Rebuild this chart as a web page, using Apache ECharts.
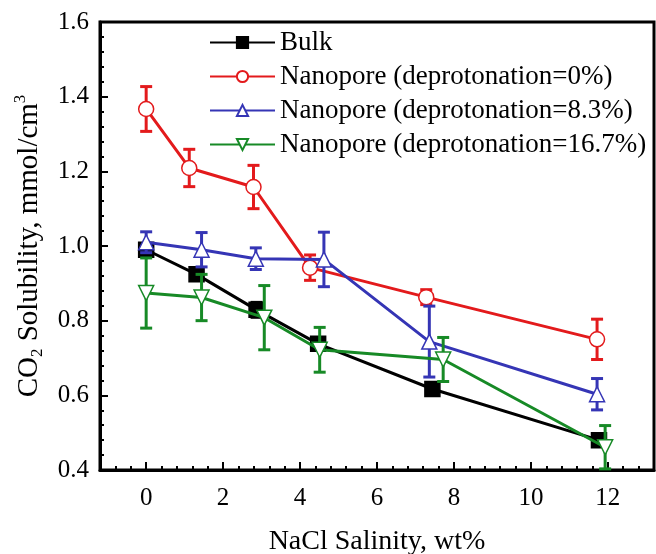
<!DOCTYPE html>
<html>
<head>
<meta charset="utf-8">
<script src="https://cdn.jsdelivr.net/npm/echarts@6/dist/echarts.min.js"></script>
<style>
  html, body { margin: 0; padding: 0; background: #fff; }
  #chart { width: 656px; height: 554px; }
</style>
</head>
<body>
<div id="chart"></div>
<script>
// CO2 solubility vs NaCl salinity: bulk water and nanopores at three deprotonation levels
const seriesNames = [
  'Bulk',
  'Nanopore (deprotonation=0%)',
  'Nanopore (deprotonation=8.3%)',
  'Nanopore (deprotonation=16.7%)'
];

// salinity (wt%) for each point
const bulkX  = [0, 1.31, 2.87, 4.47, 7.44, 11.77];
const np0X   = [0, 1.12, 2.79, 4.26, 7.28, 11.72];
const np83X  = [0, 1.44, 2.85, 4.62, 7.36, 11.72];
const np167X = [0, 1.44, 3.07, 4.51, 7.72, 11.93];

// solubility (mmol/cm3)
const bulkY  = [0.990, 0.924, 0.829, 0.738, 0.617, 0.480];
const np0Y   = [1.367, 1.209, 1.158, 0.942, 0.863, 0.750];
const np83Y  = [1.010, 0.990, 0.966, 0.964, 0.744, 0.603];
const np167Y = [0.874, 0.862, 0.808, 0.722, 0.696, 0.461];

// error bar half-widths
const bulkErr  = [0.010, 0.015, 0.020, 0.012, 0.010, 0.010];
const np0Err   = [0.060, 0.050, 0.058, 0.034, 0.020, 0.054];
const np83Err  = [0.028, 0.046, 0.029, 0.073, 0.095, 0.042];
const np167Err = [0.094, 0.062, 0.086, 0.060, 0.059, 0.058];

const xTickLabels = [0, 2, 4, 6, 8, 10, 12];

const colors = ['#000000', '#e31a1c', '#3535b5', '#178a26'];
const symbols = ['rect', 'circle', 'triangle', 'triangle'];
const rotations = [0, 0, 0, 180];
const fills = ['#000000', '#ffffff', '#ffffff', '#ffffff'];

const xs = [bulkX, np0X, np83X, np167X];
const ys = [bulkY, np0Y, np83Y, np167Y];
const errs = [bulkErr, np0Err, np83Err, np167Err];

const FONT = "'Liberation Serif', 'Times New Roman', 'Liberation Sans', serif";
const Y_MIN = 0.4, Y_MAX = 1.6;

function errorBarSeries(i) {
  const data = xs[i].map((x, k) => [x, ys[i][k], errs[i][k]]);
  return {
    type: 'custom',
    id: 'errbar' + i,
    xAxisIndex: 0,
    yAxisIndex: 0,
    z: 2 + i * 2,
    silent: true,
    encode: { x: 0, y: 1 },
    data: data,
    renderItem: function (params, api) {
      const x = api.value(0), y = api.value(1), e = api.value(2);
      const hiV = Math.min(y + e, Y_MAX);
      const loV = Math.max(y - e, Y_MIN);
      const hi = api.coord([x, hiV]);
      const lo = api.coord([x, loV]);
      const cap = 6;
      const style = { stroke: colors[i], lineWidth: 3 };
      const children = [
        { type: 'line', shape: { x1: hi[0], y1: hi[1], x2: lo[0], y2: lo[1] }, style: style }
      ];
      if (y + e <= Y_MAX) children.push({ type: 'line', shape: { x1: hi[0] - cap, y1: hi[1], x2: hi[0] + cap, y2: hi[1] }, style: style });
      if (y - e >= Y_MIN) children.push({ type: 'line', shape: { x1: lo[0] - cap, y1: lo[1], x2: lo[0] + cap, y2: lo[1] }, style: style });
      return { type: 'group', children: children };
    }
  };
}

function lineSeries(i) {
  return {
    type: 'line',
    name: seriesNames[i],
    xAxisIndex: 0,
    yAxisIndex: 0,
    z: 3 + i * 2,
    data: xs[i].map((x, k) => [x, ys[i][k]]),
    symbol: symbols[i],
    symbolSize: 15,
    symbolRotate: rotations[i],
    showAllSymbol: true,
    lineStyle: { color: colors[i], width: 3 },
    itemStyle: { color: fills[i], borderColor: colors[i], borderWidth: 1.5 },
    emphasis: { disabled: true },
    animation: false
  };
}

const series = [];
for (let i = 0; i < 4; i++) {
  series.push(errorBarSeries(i));
  series.push(lineSeries(i));
}

const chart = echarts.init(document.getElementById('chart'), null, { renderer: 'canvas' });
chart.setOption({
  animation: false,
  backgroundColor: '#ffffff',
  grid: {
    left: 100, right: 2, top: 22, bottom: 84,
    containLabel: false,
    outerBoundsMode: 'none',
    show: true, borderColor: '#000', borderWidth: 3, backgroundColor: 'transparent'
  },
  legend: {
    data: seriesNames,
    orient: 'vertical',
    left: 209,
    top: 29,
    padding: 0,
    itemWidth: 65,
    itemHeight: 14,
    itemGap: 7,
    textStyle: { fontFamily: FONT, fontSize: 27, color: '#000', lineHeight: 26 },
    selectedMode: false
  },
  xAxis: [
    {
      type: 'value',
      position: 'bottom',
      min: -1.2, max: 13.2,
      name: 'NaCl Salinity, wt%',
      nameLocation: 'middle',
      nameGap: 58,
      nameTextStyle: { fontFamily: FONT, fontSize: 28, color: '#000' },
      axisLine: { show: true, onZero: false, lineStyle: { color: '#000', width: 3 } },
      axisTick: { show: true, inside: true, length: 8, customValues: xTickLabels, lineStyle: { color: '#000', width: 2 } },
      axisLabel: { customValues: xTickLabels, fontFamily: FONT, fontSize: 25, color: '#000', margin: 16 },
      splitLine: { show: false }
    },
    {
      type: 'value',
      position: 'bottom',
      min: -1.2, max: 13.2, interval: 0.4,
      axisLine: { show: false, onZero: false },
      axisTick: { show: true, inside: true, length: 4, lineStyle: { color: '#000', width: 2 } },
      axisLabel: { show: false },
      splitLine: { show: false }
    }
  ],
  yAxis: {
    type: 'value',
    min: Y_MIN, max: Y_MAX, interval: 0.2,
    name: '{a|CO}{s|2}{a| Solubility, mmol/cm}{p|3}',
    nameLocation: 'middle',
    nameGap: 54,
    nameTextStyle: {
      fontFamily: FONT, fontSize: 29, color: '#000',
      rich: {
        a: { fontFamily: FONT, fontSize: 29, color: '#000', lineHeight: 34, verticalAlign: 'middle' },
        s: { fontFamily: FONT, fontSize: 17, color: '#000', lineHeight: 34, verticalAlign: 'bottom' },
        p: { fontFamily: FONT, fontSize: 17, color: '#000', lineHeight: 34, verticalAlign: 'top' }
      }
    },
    axisLine: { show: true, onZero: false, lineStyle: { color: '#000', width: 3 } },
    axisTick: { show: true, inside: true, length: 8, lineStyle: { color: '#000', width: 2 } },
    minorTick: { show: true, splitNumber: 5, length: 4, lineStyle: { color: '#000', width: 2 } },
    axisLabel: { fontFamily: FONT, fontSize: 25, color: '#000', margin: 11, formatter: v => v.toFixed(1) },
    splitLine: { show: false },
    minorSplitLine: { show: false }
  },
  series: series
});
</script>
</body>
</html>
